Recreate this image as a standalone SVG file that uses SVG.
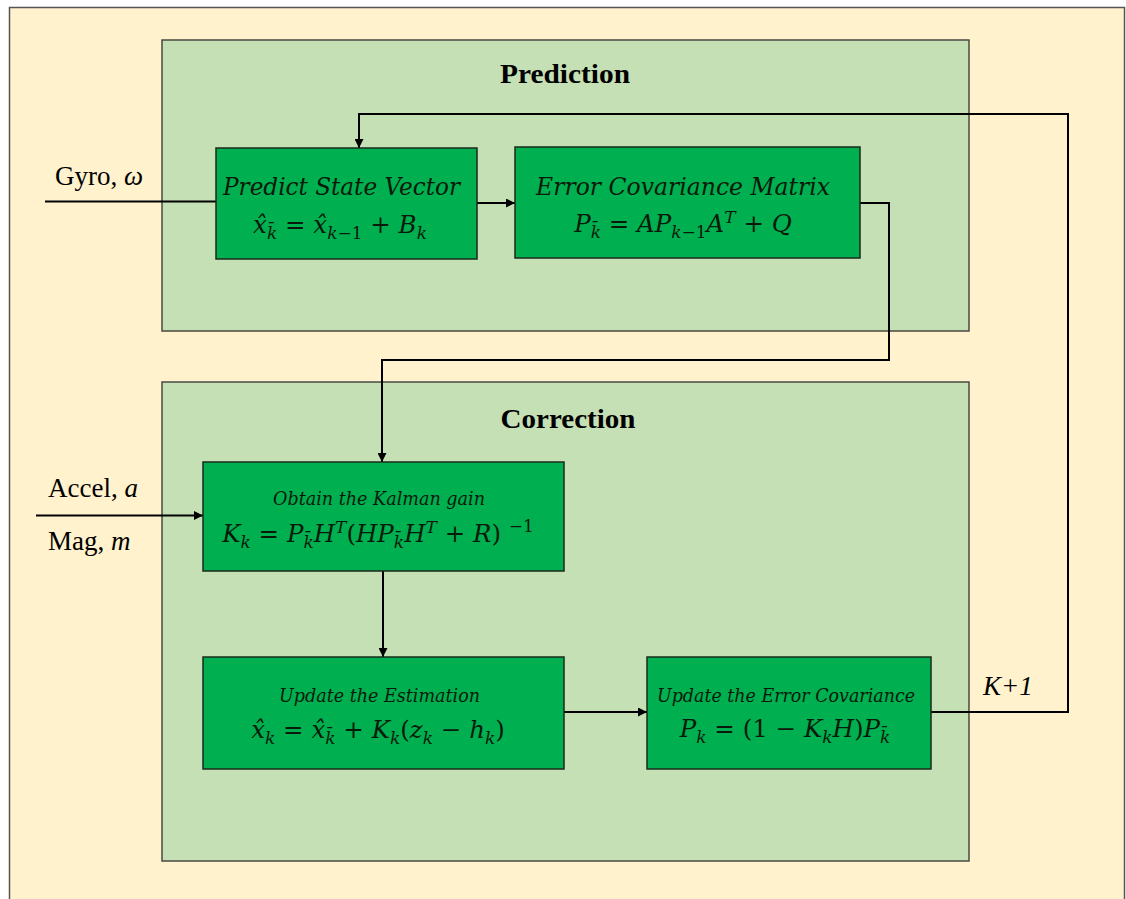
<svg xmlns="http://www.w3.org/2000/svg" width="1126" height="899" viewBox="0 0 1126 899">
  <defs>
    <marker id="arrow" viewBox="0 0 10 10" refX="10" refY="5" markerWidth="9" markerHeight="9" markerUnits="userSpaceOnUse" orient="auto">
      <path d="M0,0 L10,5 L0,10 z" fill="#000"/>
    </marker>
    <style>
      .panel { fill: #C5E0B4; stroke: #4a4a42; stroke-width: 1.5; }
      .box { fill: #00B050; stroke: #1a2a1a; stroke-width: 1.5; }
      .wire { fill: none; stroke: #000; stroke-width: 2; }
      .title { font-family: "Liberation Serif", serif; font-weight: bold; font-size: 27px; fill: #000; }
      .head { font-family: "DejaVu Serif", serif; font-style: italic; fill: #0a1a0a; }
      .m { font-family: "DejaVu Serif", serif; font-style: italic; font-size: 24.5px; fill: #0a1a0a; }
      .s { font-size: 17px; }
      .u { font-style: normal; }
      .lbl { font-family: "Liberation Serif", serif; font-size: 27px; fill: #000; }
      .lbl .v { font-style: italic; }
    </style>
  </defs>

  <!-- page background -->
  <rect x="9.5" y="7.5" width="1115" height="900" fill="#FFF2CC" stroke="#555" stroke-width="1.5"/>

  <!-- stage panels -->
  <g id="prediction">
    <rect class="panel" x="162" y="40" width="807" height="291"/>
    <text class="title" x="565" y="83" text-anchor="middle" textLength="130" lengthAdjust="spacingAndGlyphs">Prediction</text>
  </g>
  <g id="correction">
    <rect class="panel" x="162" y="382" width="807" height="479"/>
    <text class="title" x="568" y="428" text-anchor="middle" textLength="135" lengthAdjust="spacingAndGlyphs">Correction</text>
  </g>

  <!-- connectors -->
  <g id="connectors">
    <path class="wire" d="M45,201.5 H216"/>
    <path class="wire" d="M477,203 H515" marker-end="url(#arrow)"/>
    <path class="wire" d="M860,203 H889 V360 H382 V462" marker-end="url(#arrow)"/>
    <path class="wire" d="M36,515.5 H203" marker-end="url(#arrow)"/>
    <path class="wire" d="M383,571 V657" marker-end="url(#arrow)"/>
    <path class="wire" d="M564,712 H647" marker-end="url(#arrow)"/>
    <path class="wire" d="M931,712 H1068 V114 H359 V148" marker-end="url(#arrow)"/>
  </g>

  <!-- input labels -->
  <g id="inputs">
    <text class="lbl" x="55" y="185">Gyro, <tspan class="v">ω</tspan></text>
    <text class="lbl" x="48" y="497">Accel, <tspan class="v">a</tspan></text>
    <text class="lbl" x="48" y="550">Mag, <tspan class="v">m</tspan></text>
    <text class="lbl" x="983" y="695" font-style="italic" font-size="28">K+1</text>
  </g>

  <!-- prediction step nodes -->
  <g id="predict-state">
    <rect class="box" x="216" y="148" width="261" height="111"/>
    <text class="head" x="223" y="195" font-size="24" textLength="237" lengthAdjust="spacingAndGlyphs">Predict State Vector</text>
    <text class="m" x="340" y="233" text-anchor="middle">x̂<tspan class="s" dy="6">k̄</tspan><tspan class="u" dy="-6"> = </tspan>x̂<tspan class="s" dy="6">k<tspan class="u">−1</tspan></tspan><tspan class="u" dy="-6"> + </tspan>B<tspan class="s" dy="6">k</tspan></text>
  </g>

  <g id="error-covariance">
    <rect class="box" x="515" y="147" width="345" height="111"/>
    <text class="head" x="536" y="195" font-size="24" textLength="294" lengthAdjust="spacingAndGlyphs">Error Covariance Matrix</text>
    <text class="m" x="683" y="232" text-anchor="middle">P<tspan class="s" dy="6">k̄</tspan><tspan class="u" dy="-6"> = </tspan>AP<tspan class="s" dy="6">k<tspan class="u">−1</tspan></tspan><tspan dy="-6">A</tspan><tspan class="s" dy="-9">T</tspan><tspan class="u" dy="9"> + </tspan>Q</text>
  </g>

  <!-- correction step nodes -->
  <g id="kalman-gain">
    <rect class="box" x="203" y="462" width="361" height="109"/>
    <text class="head" x="273" y="505" font-size="19" textLength="212" lengthAdjust="spacingAndGlyphs">Obtain the Kalman gain</text>
    <text class="m" x="378" y="542" text-anchor="middle">K<tspan class="s" dy="6">k</tspan><tspan class="u" dy="-6"> = </tspan>P<tspan class="s" dy="6">k̄</tspan><tspan dy="-6">H</tspan><tspan class="s" dy="-9">T</tspan><tspan class="u" dy="9">(</tspan>HP<tspan class="s" dy="6">k̄</tspan><tspan dy="-6">H</tspan><tspan class="s" dy="-9">T</tspan><tspan class="u" dy="9"> + </tspan>R<tspan class="u">) </tspan><tspan class="s u" dy="-10">−1</tspan></text>
  </g>

  <g id="update-estimation">
    <rect class="box" x="203" y="657" width="361" height="112"/>
    <text class="head" x="279" y="702" font-size="19" textLength="201" lengthAdjust="spacingAndGlyphs">Update the Estimation</text>
    <text class="m" x="378" y="738" text-anchor="middle">x̂<tspan class="s" dy="6">k</tspan><tspan class="u" dy="-6"> = </tspan>x̂<tspan class="s" dy="6">k̄</tspan><tspan class="u" dy="-6"> + </tspan>K<tspan class="s" dy="6">k</tspan><tspan class="u" dy="-6">(</tspan>z<tspan class="s" dy="6">k</tspan><tspan class="u" dy="-6"> − </tspan>h<tspan class="s" dy="6">k</tspan><tspan class="u" dy="-6">)</tspan></text>
  </g>

  <g id="update-error-covariance">
    <rect class="box" x="647" y="657" width="284" height="112"/>
    <text class="head" x="657" y="702" font-size="19" textLength="258" lengthAdjust="spacingAndGlyphs">Update the Error Covariance</text>
    <text class="m" x="785" y="737" text-anchor="middle">P<tspan class="s" dy="6">k</tspan><tspan class="u" dy="-6"> = (1 − </tspan>K<tspan class="s" dy="6">k</tspan><tspan dy="-6">H</tspan><tspan class="u">)</tspan>P<tspan class="s" dy="6">k̄</tspan></text>
  </g>
</svg>
